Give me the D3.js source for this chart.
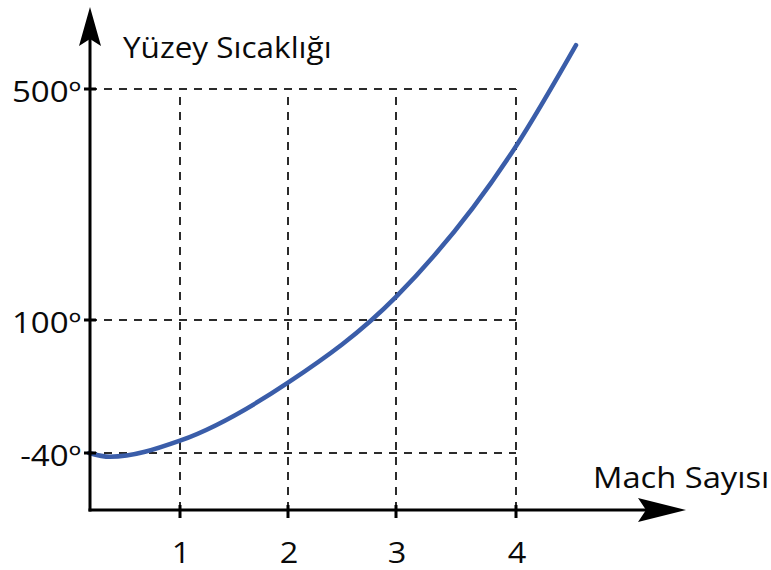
<!DOCTYPE html>
<html>
<head>
<meta charset="utf-8">
<script src="https://cdn.jsdelivr.net/npm/d3@7/dist/d3.min.js"></script>
<style>
  html, body { margin: 0; padding: 0; background: #fff; }
  svg { display: block; }
  text { font-family: "Open Sans", "Noto Sans", sans-serif; fill: #0a0a0a; }
</style>
</head>
<body>
<svg id="chart" width="771" height="570"></svg>
<script>
// Mach number vs. surface temperature
const machTicks = [1, 2, 3, 4];
const tempTicks = [-40, 100, 500];
const tempTickLabels = ["-40º", "100º", "500º"];
const yTitle = "Yüzey Sıcaklığı";
const xTitle = "Mach Sayısı";

// curve samples (Mach number, temperature)
const machValues = [0, 0.23, 1, 2, 3, 4, 4.5];
const tempValues = [-40, -44, -27, 34, 140, 401, 576];

const svg = d3.select("#chart");

// schematic axes: each labelled interval has its own spacing
const x = d3.scaleLinear().domain([0, 1, 2, 3, 4]).range([89, 180, 288, 396, 516]);
const y = d3.scaleLinear().domain([-40, 100, 500]).range([453, 320, 89]);

const originX = 89, originY = 510;

// dashed grid
const grid = svg.append("g")
  .attr("stroke", "#2b2b2b")
  .attr("stroke-width", 2)
  .attr("stroke-dasharray", "8,7")
  .attr("fill", "none");

grid.selectAll("line.v").data(machTicks).join("line")
  .attr("class", "v")
  .attr("x1", d => x(d)).attr("x2", d => x(d))
  .attr("y1", originY).attr("y2", y(d3.max(tempTicks)));

grid.selectAll("line.h").data(tempTicks).join("line")
  .attr("class", "h")
  .attr("x1", originX).attr("x2", x(d3.max(machTicks)))
  .attr("y1", d => y(d)).attr("y2", d => y(d));

// curve
const line = d3.line()
  .x(d => x(d[0]))
  .y(d => y(d[1]))
  .curve(d3.curveMonotoneX);

svg.append("path")
  .datum(machValues.map((m, i) => [m, tempValues[i]]))
  .attr("d", line)
  .attr("fill", "none")
  .attr("stroke", "#3a5da9")
  .attr("stroke-width", 4.5)
  .attr("stroke-linecap", "round");

// axes
const axes = svg.append("g").attr("stroke", "#000").attr("stroke-width", 3);
axes.append("line").attr("x1", originX + 1).attr("x2", originX + 1).attr("y1", originY + 1.5).attr("y2", 30);
axes.append("line").attr("x1", originX - 0.5).attr("x2", 660).attr("y1", originY).attr("y2", originY);

// tick marks
axes.selectAll("line.xt").data(machTicks).join("line")
  .attr("class", "xt")
  .attr("x1", d => x(d)).attr("x2", d => x(d))
  .attr("y1", originY - 5).attr("y2", originY + 8);
axes.selectAll("line.yt").data(tempTicks).join("line")
  .attr("class", "yt")
  .attr("x1", originX - 5).attr("x2", originX + 7)
  .attr("y1", d => y(d)).attr("y2", d => y(d));

// arrow heads
svg.append("path")
  .attr("d", "M90,7 L101,46 L90,39 L79,46 Z")
  .attr("fill", "#000");
svg.append("path")
  .attr("d", "M686,510 L638,522 L646,510 L638,498 Z")
  .attr("fill", "#000");

// text is drawn slightly widened
const place = (sel, tx, ty, sx) => sel.attr("transform", `translate(${tx},${ty}) scale(${sx},1)`);

// tick labels
svg.selectAll("text.xl").data(machTicks).join("text")
  .attr("class", "xl")
  .attr("text-anchor", "middle")
  .attr("font-size", 29)
  .each(function (d) { place(d3.select(this), x(d) + 1, 563, 1.12); })
  .text(d => d);

svg.selectAll("text.yl").data(tempTicks).join("text")
  .attr("class", "yl")
  .attr("text-anchor", "end")
  .attr("font-size", 29)
  .each(function (d) { place(d3.select(this), 81, y(d) + 13, 1.14); })
  .text((d, i) => tempTickLabels[i]);

// axis titles
place(svg.append("text"), 123, 58, 1.05)
  .attr("font-size", 30)
  .text(yTitle);

place(svg.append("text"), 593, 488, 1.09)
  .attr("font-size", 30)
  .text(xTitle);
</script>
</body>
</html>
